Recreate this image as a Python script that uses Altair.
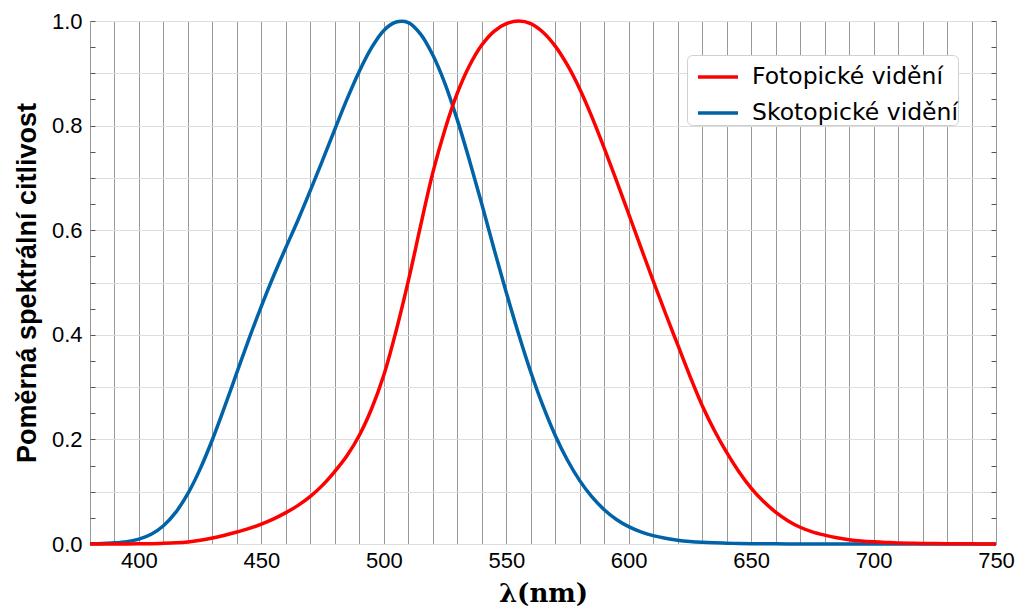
import altair as alt
import pandas as pd

wl = list(range(380, 755, 5))

photopic = [0.000039, 0.000064, 0.00012, 0.000217, 0.000396, 0.00064, 0.00121, 0.00218,
            0.004, 0.0073, 0.0116, 0.01684, 0.023, 0.0298, 0.038, 0.048, 0.06, 0.0739,
            0.09098, 0.1126, 0.13902, 0.1693, 0.20802, 0.2586, 0.323, 0.4073, 0.503,
            0.6082, 0.71, 0.7932, 0.862, 0.91485, 0.954, 0.9803, 0.99495, 1.0, 0.995,
            0.9786, 0.952, 0.9154, 0.87, 0.8163, 0.757, 0.6949, 0.631, 0.5668, 0.503,
            0.4412, 0.381, 0.321, 0.265, 0.217, 0.175, 0.1382, 0.107, 0.0816, 0.061,
            0.04458, 0.032, 0.0232, 0.017, 0.01192, 0.00821, 0.005723, 0.004102,
            0.002929, 0.002091, 0.001484, 0.001047, 0.00074, 0.00052, 0.000361,
            0.000249, 0.000172, 0.00012]

scotopic = [0.000589, 0.001108, 0.002209, 0.00453, 0.00929, 0.01852, 0.03484, 0.0604,
            0.0966, 0.1436, 0.1998, 0.2625, 0.3281, 0.3931, 0.455, 0.513, 0.567, 0.62,
            0.676, 0.734, 0.793, 0.851, 0.904, 0.949, 0.982, 0.998, 0.997, 0.975, 0.935,
            0.88, 0.811, 0.733, 0.65, 0.564, 0.481, 0.402, 0.3288, 0.2639, 0.2076,
            0.1602, 0.1212, 0.0899, 0.0655, 0.0469, 0.03315, 0.02312, 0.01593, 0.01088,
            0.00737, 0.00497, 0.003335, 0.002235, 0.001497, 0.001005, 0.000677,
            0.000459, 0.000313, 0.000215, 0.000148, 0.000103, 0.0000715, 0.00005,
            0.0000353, 0.000025, 0.0000178, 0.0000127, 0.0000091, 0.0000066,
            0.0000048, 0.0000035, 0.0000025, 0.0000018, 0.0000013, 0.0000009, 0.0000007]

series_names = ["Fotopické vidění", "Skotopické vidění"]
series_colors = ["#ff0000", "#0063a8"]

x_grid_values = list(range(380, 751, 10))
y_grid_values = [i / 10 for i in range(0, 11)]
y_minor_values = [i / 20 for i in range(0, 21)]

df = pd.concat([
    pd.DataFrame({"wl": wl, "v": photopic, "s": series_names[0]}),
    pd.DataFrame({"wl": wl, "v": scotopic, "s": series_names[1]}),
])

SANS = "Liberation Sans, Arial, sans-serif"

x_enc = alt.X("wl:Q", scale=alt.Scale(domain=[380, 750], nice=False, zero=False),
              axis=alt.Axis(values=x_grid_values, title="λ(nm)",
                            labelExpr="datum.value % 50 == 0 ? datum.label : ''",
                            labelFont=SANS, labelFontSize=22, labelColor="black",
                            labelPadding=6, labelFlush=False, labelOverlap=False,
                            ticks=False, domain=False,
                            grid=True, gridColor="#999999", gridWidth=1,
                            titleFont="DejaVu Serif", titleFontSize=26,
                            titleFontWeight="bold", titleColor="black", titlePadding=9))
y_scale = alt.Scale(domain=[0, 1], nice=False)

color = alt.Color("s:N", scale=alt.Scale(domain=series_names, range=series_colors),
                  legend=alt.Legend(title=None, orient="none", legendX=597, legendY=34,
                                    fillColor="white", strokeColor="#d0d0d0", cornerRadius=5,
                                    padding=0, labelFont="DejaVu Sans", labelFontSize=23.5,
                                    labelColor="black", labelLimit=0,
                                    labelExpr="datum.label + '   '",
                                    symbolType="stroke", symbolOffset=9,
                                    symbolStrokeWidth=3.5, symbolSize=1600, labelOffset=12,
                                    rowPadding=2))

main_y = alt.Y("v:Q", scale=y_scale,
               axis=alt.Axis(values=y_grid_values, title="Poměrná spektrální citlivost",
                             labelExpr="(round(datum.value*10) % 2 == 0) ? format(datum.value, '.1f') : ''",
                             labelFont=SANS, labelFontSize=22, labelColor="black",
                             labelPadding=8, ticks=False, domain=False, grid=True,
                             gridColor="#dddddd", gridWidth=1,
                             titleFont=SANS, titleFontSize=27,
                             titleFontWeight="bold", titleColor="black", titlePadding=10))

blue = alt.Chart(df[df.s == series_names[1]]).mark_line(strokeWidth=3.5, interpolate="catmull-rom").encode(
    x=x_enc, y=main_y, color=color)
red = alt.Chart(df[df.s == series_names[0]]).mark_line(strokeWidth=3.5, interpolate="catmull-rom").encode(
    x=x_enc, y=alt.Y("v:Q", scale=y_scale, axis=None), color=color)

tick_left = alt.Chart(df).mark_line(opacity=0).encode(
    x=x_enc,
    y=alt.Y("v:Q", scale=y_scale,
            axis=alt.Axis(orient="left", values=y_minor_values, labels=False, title=None,
                          domain=False, grid=False, ticks=True, tickSize=5, offset=-5,
                          tickColor="#555555")))
tick_right = alt.Chart(df).mark_line(opacity=0).encode(
    x=x_enc,
    y=alt.Y("v:Q", scale=y_scale,
            axis=alt.Axis(orient="right", values=y_minor_values, labels=False, title=None,
                          domain=False, grid=False, ticks=True, tickSize=5, offset=-5,
                          tickColor="#555555")))

chart = alt.layer(blue, red, tick_left, tick_right).resolve_axis(y="independent").properties(
    width=906, height=523,
    autosize=alt.AutoSizeParams(type="none"),
    padding={"left": 90, "top": 21, "right": 21, "bottom": 68},
).configure_view(stroke="#555555", strokeWidth=1.5).configure(background="white")

chart.save("out.html", embed_options={"renderer": "svg", "actions": False})
